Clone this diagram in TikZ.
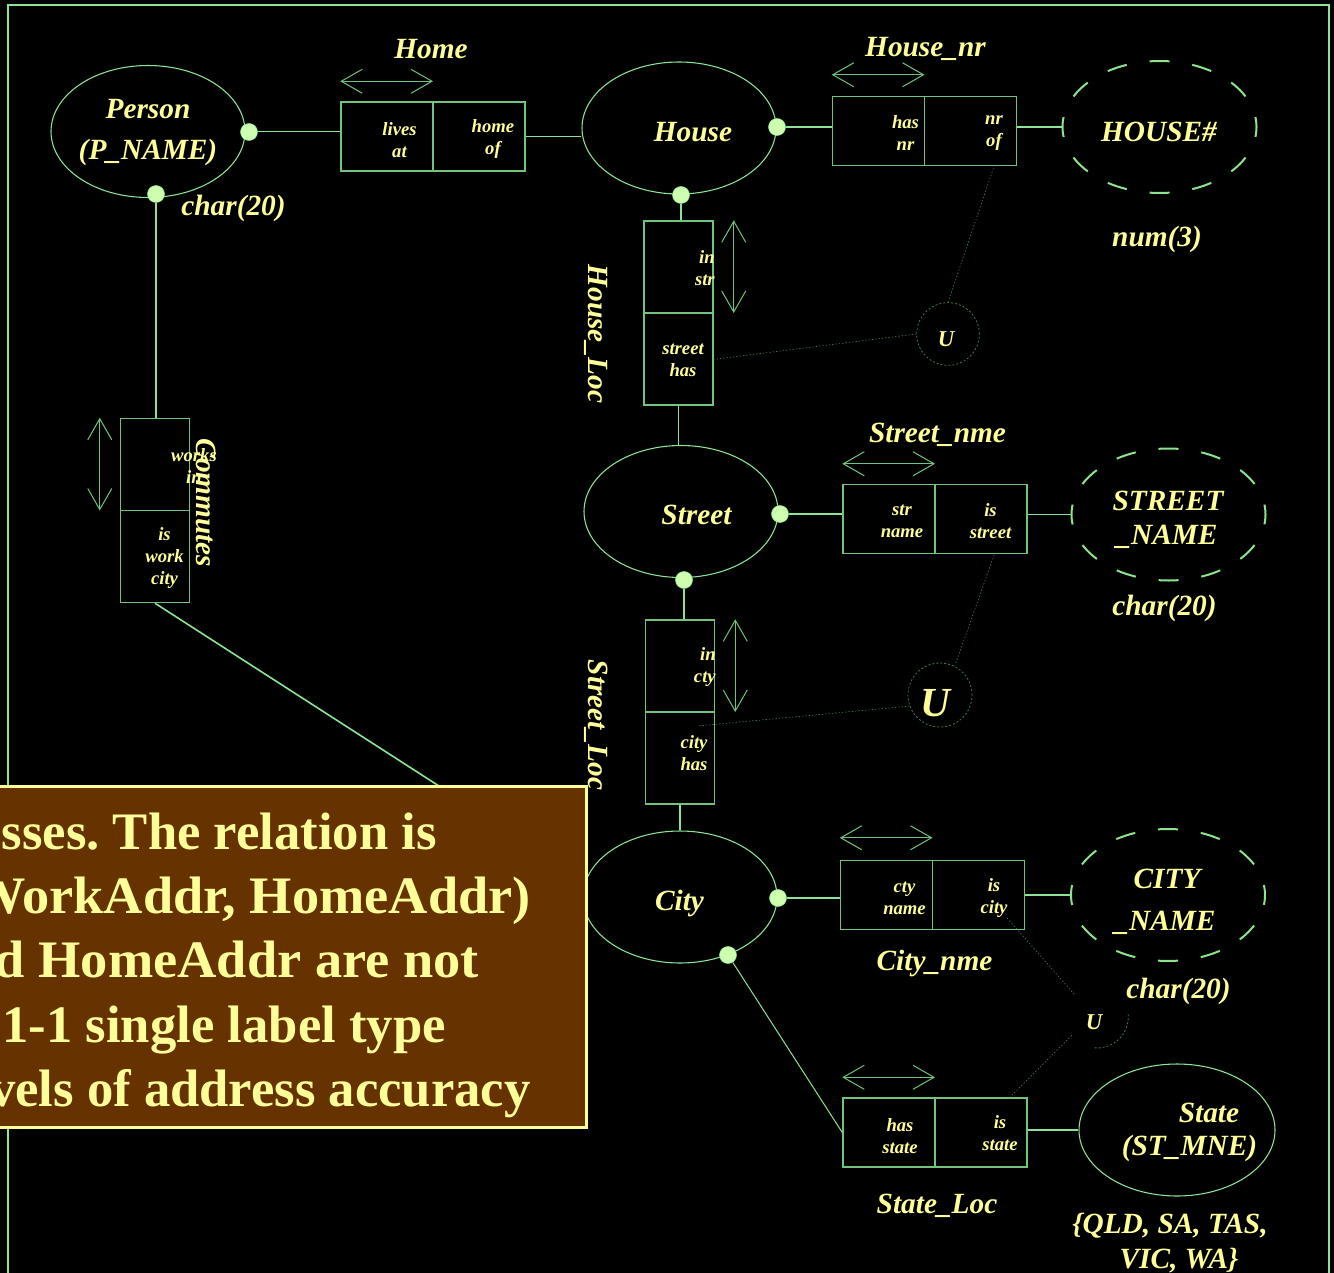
\documentclass[tikz,border=0pt]{standalone}
\usepackage{fontspec}
\setmainfont{Liberation Serif}
\usetikzlibrary{shapes.geometric,arrows.meta,calc}
\definecolor{txtyellow}{RGB}{255,255,153}
\definecolor{framegreen}{RGB}{140,228,140}
\definecolor{boxgreen}{RGB}{112,196,124}
\definecolor{linegreen}{RGB}{140,228,150}
\definecolor{dotfill}{RGB}{205,255,175}
\definecolor{dimgreen}{RGB}{70,120,80}
\definecolor{notebrown}{RGB}{102,51,0}
\frenchspacing

\begin{document}
\begin{tikzpicture}[x=0.75pt,y=-0.75pt,
  entity/.style={ellipse, draw=linegreen, line width=0.8pt, minimum width=145.5pt, minimum height=99pt, inner sep=0pt},
  valueset/.style={ellipse, draw=framegreen, line width=1.5pt, dash pattern=on 15pt off 17.3pt, dash phase=7.5pt, minimum width=145.5pt, minimum height=99pt, inner sep=0pt},
  relbox/.style={draw=boxgreen, line width=1.1pt, minimum width=138pt, minimum height=51.75pt, inner sep=0pt},
  relboxv/.style={relbox, minimum width=51.75pt, minimum height=138pt},
  joint/.style={circle, fill=dotfill, draw=linegreen, line width=0.4pt, minimum size=12.75pt, inner sep=0pt},
  ring/.style={circle, draw=dimgreen, line width=0.6pt, dash pattern=on 1.5pt off 1.5pt, inner sep=0pt},
  lbl/.style={text=txtyellow, inner sep=0pt, font=\bfseries\itshape\fontsize{22}{30.75}\selectfont},
  role/.style={text=txtyellow, inner sep=0pt, align=center, font=\bfseries\itshape\fontsize{14}{16.5}\selectfont},
  conn/.style={draw=linegreen, line width=1.2pt},
  slimline/.style={draw=linegreen, line width=0.75pt},
  divider/.style={draw=boxgreen, line width=1.1pt},
  dbl/.style={draw=boxgreen, line width=0.75pt, {Straight Barb[length=15.75pt,width=18pt]}-{Straight Barb[length=15.75pt,width=18pt]}},
  faint/.style={draw=dimgreen, line width=0.5pt, dash pattern=on 1pt off 1.5pt},
  notetext/.style={text=txtyellow, inner sep=0pt, anchor=base east, font=\bfseries\fontsize{39.5}{48}\selectfont}
]
\useasboundingbox (0,0) rectangle (1334,1273);
\clip (0,0) rectangle (1334,1273);
\fill[black] (0,0) rectangle (1334,1273);

% outer frame
\draw[framegreen, line width=1.8pt] (8,1290) -- (8,5) -- (1329,5) -- (1329,1290);

% entity types
\node[entity] (person) at (148,131.5) {};
\node[entity] (house) at (679,128) {};
\node[entity] (street) at (681,511.5) {};
\node[entity] (city) at (680,897) {};
\node[entity, minimum width=147pt] (state) at (1177,1130) {};

% value sets (dashed)
\node[valueset] (hnum) at (1159.5,127) {};
\node[valueset] (snum) at (1168.5,514.5) {};
\node[valueset] (cnum) at (1168,895) {};

% fact type boxes
\node[relbox] (home) at (433,136.5) {};
\node[relbox] (hnr) at (924.5,131) {};
\node[relbox] (snme) at (935,519) {};
\node[relbox] (cnme) at (932.5,895) {};
\node[relbox] (stloc) at (935,1132.5) {};
\node[relboxv] (hloc) at (678.5,313) {};
\node[relboxv] (sloc) at (680,712) {};
\node[relboxv] (comm) at (155,510.5) {};
\foreach \b in {home,hnr,snme,cnme,stloc} \draw[divider] (\b.north) -- (\b.south);
\foreach \b in {hloc,sloc,comm} \draw[divider] (\b.west) -- (\b.east);

% mandatory role dots
\node[joint] (pdR) at (249,132) {};
\node[joint] (pdB) at (156,194) {};
\node[joint] (hdR) at (777,127) {};
\node[joint] (hdB) at (681,195) {};
\node[joint] (sdR) at (780,514) {};
\node[joint] (sdB) at (684,580) {};
\node[joint] (cdR) at (778,898) {};
\node[joint] (cdB) at (728,955) {};

% connectors
\draw[slimline] (pdR) -- (pdR -| home.west);
\draw[conn] (home.east) -- (home.east -| house.west);
\draw[conn] (hdR) -- (hdR -| hnr.west);
\draw[conn] (hnum.west -| hnr.east) -- (hnum.west);
\draw[conn] (hdB) -- (hdB |- hloc.north);
\draw[conn] (hloc.south) -- (hloc.south |- street.north);
\draw[conn] (sdR) -- (sdR -| snme.west);
\draw[conn] (snum.west -| snme.east) -- (snum.west);
\draw[conn] (sdB) -- (sdB |- sloc.north);
\draw[conn] (sloc.south) -- (sloc.south |- city.north);
\draw[conn] (cdR) -- (cdR -| cnme.west);
\draw[conn] (cnum.west -| cnme.east) -- (cnum.west);
\draw[slimline] (cdB) -- (stloc.west);
\draw[conn] (state.west -| stloc.east) -- (state.west);
\draw[conn] (pdB) -- (pdB |- comm.north);
\draw[conn] (comm.south) -- (city.170);

% uniqueness arrows
\draw[dbl] ([shift={(0,-20)}]home.north west) -- ([shift={(0,-20)}]home.north);
\draw[dbl] ([shift={(0,-21)}]hnr.north west) -- ([shift={(0,-21)}]hnr.north);
\draw[dbl] ([shift={(0,-20)}]snme.north west) -- ([shift={(0,-20)}]snme.north);
\draw[dbl] ([shift={(0,-22)}]cnme.north west) -- ([shift={(0,-22)}]cnme.north);
\draw[dbl] ([shift={(0,-20)}]stloc.north west) -- ([shift={(0,-20)}]stloc.north);
\draw[dbl] ([shift={(20,0)}]hloc.north east) -- ([shift={(20,0)}]hloc.east);
\draw[dbl] ([shift={(20,0)}]sloc.north east) -- ([shift={(20,0)}]sloc.east);
\draw[dbl] ([shift={(-20,0)}]comm.north west) -- ([shift={(-20,0)}]comm.west);

% external uniqueness constraints
\node[ring, minimum size=47pt] (u1) at (948,334) {};
\node[ring, minimum size=48pt] (u2) at (940,695) {};
\node[circle, minimum size=46.5pt, inner sep=0pt] (u3) at (1097,1017) {};
\draw[draw=dimgreen, line width=0.6pt, dash pattern=on 1.5pt off 1.5pt] (u3.5) arc[start angle=5, end angle=-95, radius=23.25pt];
\draw[faint] (u1.north) -- ($(hnr.south)!0.75!(hnr.south east)$);
\draw[faint] (u1.west) -- ($(hloc.east)!0.5!(hloc.south east)$);
\draw[faint] (u2.63) -- ($(snme.south)!0.64!(snme.south east)$);
\draw[faint] (u2.200) -- ([shift={(-18,14)}]sloc.east);
\draw[faint] ([shift={(-18,-12)}]cnme.south east) -- (u3.135);
\draw[faint] (u3.216) -- ([shift={(-18,0)}]stloc.north east);

% texts inside entity ellipses
\node[lbl, align=center] (persontxt) at (148,132.5) {Person\\(P\_NAME)};
\node[lbl] (housetxt) at (693,132) {House};
\node[lbl] (streettxt) at (696.5,515) {Street};
\node[lbl] (citytxt) at (679.5,903) {City};
\node[lbl] (statetxt) at (1209,1113) {State};
\node[lbl] (statekey) at (1189.5,1148) {(ST\_MNE)};
\node[lbl] (hnumtxt) at (1159,132) {HOUSE\#};
\node[lbl] (snumtxt) at (1168,501) {STREET};
\node[lbl] (snumtxt2) at (1167,537) {\_NAME};
\node[lbl] (cnumtxt) at (1167,879) {CITY};
\node[lbl] (cnumtxt2) at (1165,923) {\_NAME};

% role texts
\node[role] (r1) at (399.5,140) {lives\\at};
\node[role] (r2) at (493,139) {home\\of};
\node[role] (r3) at (905.5,133) {has\\nr};
\node[role] (r4) at (994,133) {nr\\of};
\node[role, align=right, anchor=east] (r5) at (715,268) {in\\str};
\node[role] (r6) at (683,360) {street\\has};
\node[role] (r7) at (902,521) {str\\name};
\node[role] (r8) at (990.5,521) {is\\street};
\node[role, align=right, anchor=east] (r9) at (716,667) {in\\cty};
\node[role] (r10) at (694,753) {city\\has};
\node[role] (r11) at (904.5,898) {cty\\name};
\node[role] (r12) at (994,898) {is\\city};
\node[role] (r13) at (900,1136) {has\\state};
\node[role] (r14) at (1000,1133) {is\\state};
\node[role] (r15) at (194,466) {works\\in};
\node[role] (r16) at (164.5,558) {is\\work\\city};

% constraint letters
\node[lbl, font=\bfseries\itshape\fontsize{17}{20}\selectfont] (u1txt) at (946,339) {U};
\node[lbl, font=\bfseries\itshape\fontsize{31}{36}\selectfont] (u2txt) at (935,703) {U};
\node[lbl, font=\bfseries\itshape\fontsize{17}{20}\selectfont] (u3txt) at (1094,1022) {U};

% fact type names and data types
\node[lbl] (homelbl) at (431,49) {Home};
\node[lbl] (hnrlbl) at (925.5,49) {House\_nr};
\node[lbl] (pchar) at (233.5,208) {char(20)};
\node[lbl] (hnumtype) at (1157,239) {num(3)};
\node[lbl] (snmelbl) at (937.5,435) {Street\_nme};
\node[lbl] (snumtype) at (1164.5,608) {char(20)};
\node[lbl] (cnmelbl) at (934.5,963) {City\_nme};
\node[lbl] (cnumtype) at (1178.5,991) {char(20)};
\node[lbl] (stloclbl) at (937,1206) {State\_Loc};
\node[lbl] (statevals) at (1170,1226) {\{QLD, SA, TAS,};
\node[lbl] (statevals2) at (1179,1261) {VIC, WA\}};
\node[lbl, rotate=-90] (hloclbl) at (596,334) {House\_Loc};
\node[lbl, rotate=-90] (commlbl) at (206,503) {Commutes};

% explanatory note
\node[draw=txtyellow, fill=notebrown, line width=2.25pt, minimum width=443.25pt, minimum height=255.75pt, inner sep=0pt] (note) at (290.5,956.5) {};
\node[notetext] (n1) at (437,849) {sses. The relation is};
\node[notetext, xscale=1.032, transform shape] (n2) at (531,913) {WorkAddr, HomeAddr)};
\node[notetext, xscale=1.033, transform shape] (n3) at (479,977) {nd HomeAddr are not};
\node[notetext] (n4) at (446,1042) {1-1 single label type};
\node[notetext] (n5) at (531,1106) {vels of address accuracy};

\node[lbl, rotate=-90] (sloclbl) at (596,725) {Street\_Loc};
\end{tikzpicture}
\end{document}
